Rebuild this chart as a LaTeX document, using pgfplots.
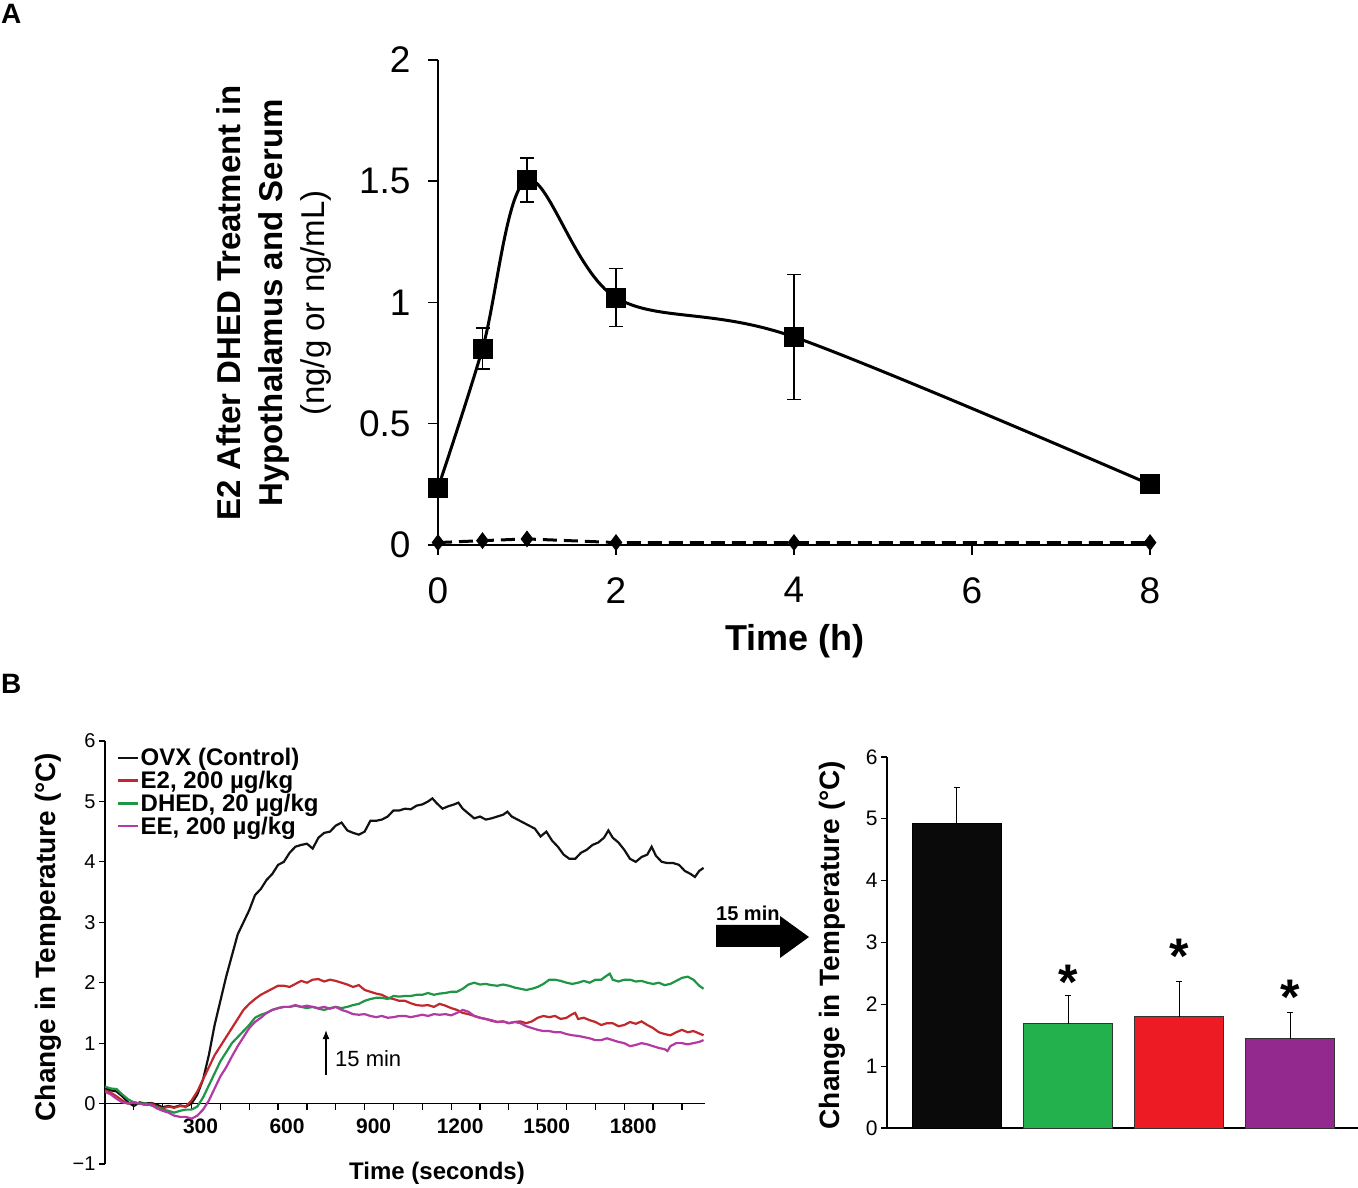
\documentclass[border=0pt]{standalone}
\usepackage{pgfplots}
\pgfplotsset{compat=1.18}
\usetikzlibrary{arrows.meta}
\usepackage{fontspec}
\setmainfont{Liberation Sans}
\definecolor{ovx}{HTML}{111111}
\definecolor{etwo}{HTML}{C0282C}
\definecolor{dhed}{HTML}{1E9646}
\definecolor{ee}{HTML}{B23AA2}
\definecolor{barblack}{HTML}{0A0A0A}
\definecolor{bargreen}{HTML}{22B14C}
\definecolor{barred}{HTML}{ED1C24}
\definecolor{barpurple}{HTML}{93288E}
\newcommand{\fs}[1]{\fontsize{#1}{#1}\selectfont}

% panel B traces (time in s, change in deg C)
\pgfplotstableread{
t v
0 0.25
20 0.22
40 0.2
60 0.12
80 0.02
100 -0.04
120 0.02
140 0.0
160 0.01
180 -0.02
200 -0.06
220 -0.04
240 -0.06
260 -0.03
280 -0.05
300 0.0
320 0.15
340 0.4
360 0.8
380 1.3
400 1.7
420 2.1
440 2.45
460 2.8
480 3.0
500 3.2
520 3.45
540 3.55
560 3.7
580 3.8
600 3.95
620 4.0
640 4.15
660 4.25
680 4.28
700 4.3
720 4.22
740 4.4
760 4.48
780 4.5
800 4.6
820 4.65
840 4.52
860 4.48
880 4.45
900 4.5
920 4.68
940 4.68
960 4.7
980 4.75
1000 4.85
1020 4.85
1040 4.88
1060 4.87
1080 4.93
1100 4.95
1120 5.0
1135 5.05
1150 4.97
1170 4.88
1190 4.92
1210 4.95
1225 4.98
1240 4.88
1260 4.8
1280 4.72
1300 4.75
1320 4.7
1340 4.72
1360 4.75
1380 4.78
1395 4.83
1410 4.75
1430 4.7
1450 4.65
1470 4.6
1490 4.55
1510 4.42
1530 4.5
1550 4.35
1570 4.25
1590 4.12
1610 4.05
1630 4.05
1650 4.15
1670 4.2
1690 4.28
1710 4.32
1730 4.4
1745 4.52
1760 4.4
1780 4.32
1800 4.2
1820 4.05
1840 4.0
1860 4.08
1880 4.12
1895 4.25
1910 4.1
1930 4.0
1950 3.98
1970 3.98
1990 3.95
2010 3.85
2030 3.8
2045 3.75
2060 3.85
2075 3.9
}\ovxdata

\pgfplotstableread{
t v
0 0.22
20 0.18
40 0.12
60 0.05
80 0.0
100 0.02
120 0.0
140 -0.02
160 0.0
180 -0.05
200 -0.08
220 -0.05
240 -0.07
260 -0.04
280 -0.05
300 0.05
320 0.2
340 0.4
360 0.6
380 0.8
400 0.95
420 1.1
440 1.25
460 1.4
480 1.55
500 1.65
520 1.73
540 1.8
560 1.85
580 1.9
600 1.95
620 1.95
640 1.93
660 1.98
680 2.03
700 2.0
720 2.05
740 2.06
760 2.02
780 2.05
800 2.03
820 2.0
840 1.97
860 1.93
880 1.96
900 1.88
920 1.85
940 1.82
960 1.8
980 1.75
1000 1.73
1020 1.7
1040 1.7
1060 1.66
1080 1.63
1100 1.62
1120 1.63
1140 1.6
1160 1.65
1180 1.62
1200 1.58
1220 1.55
1240 1.5
1260 1.48
1280 1.45
1300 1.42
1320 1.4
1340 1.37
1360 1.35
1380 1.36
1400 1.33
1420 1.35
1440 1.36
1460 1.33
1480 1.36
1500 1.42
1520 1.45
1540 1.43
1560 1.45
1580 1.4
1600 1.42
1620 1.48
1630 1.5
1640 1.4
1660 1.42
1680 1.38
1700 1.35
1720 1.3
1740 1.33
1760 1.33
1780 1.28
1800 1.3
1820 1.35
1840 1.32
1860 1.36
1880 1.3
1900 1.25
1920 1.18
1940 1.15
1960 1.13
1980 1.18
2000 1.22
2020 1.18
2040 1.2
2060 1.16
2075 1.13
}\etwodata

\pgfplotstableread{
t v
0 0.28
20 0.25
40 0.24
60 0.15
80 0.07
100 0.02
120 0.0
140 0.0
160 -0.03
180 -0.06
200 -0.1
220 -0.12
240 -0.15
260 -0.12
280 -0.1
300 -0.1
320 -0.05
340 0.1
360 0.3
380 0.5
400 0.7
420 0.85
440 1.0
460 1.1
480 1.2
500 1.3
520 1.42
540 1.47
560 1.5
580 1.55
600 1.58
620 1.6
640 1.6
660 1.62
680 1.6
700 1.58
720 1.6
740 1.57
760 1.55
780 1.58
800 1.6
820 1.58
840 1.6
860 1.63
880 1.65
900 1.7
920 1.73
940 1.75
960 1.75
980 1.73
1000 1.78
1020 1.77
1040 1.78
1060 1.78
1080 1.8
1100 1.8
1120 1.83
1140 1.8
1160 1.82
1180 1.83
1200 1.85
1220 1.85
1240 1.9
1260 1.97
1280 2.0
1300 1.97
1320 1.98
1340 1.96
1360 1.95
1380 1.97
1400 1.95
1420 1.92
1440 1.9
1460 1.88
1480 1.9
1500 1.93
1520 1.98
1540 2.05
1560 2.05
1580 2.03
1600 2.0
1620 1.98
1640 2.0
1660 2.03
1680 2.0
1700 2.05
1720 2.05
1740 2.12
1750 2.15
1760 2.05
1780 2.02
1800 2.05
1820 2.05
1840 2.02
1860 2.03
1880 2.0
1900 1.98
1920 2.0
1940 1.96
1960 1.98
1980 2.03
2000 2.08
2020 2.1
2040 2.05
2060 1.95
2075 1.9
}\dheddata

\pgfplotstableread{
t v
0 0.2
20 0.15
40 0.08
60 0.02
80 0.0
100 0.02
120 0.0
140 -0.02
160 -0.02
180 -0.08
200 -0.12
220 -0.15
240 -0.2
260 -0.22
280 -0.22
300 -0.25
320 -0.2
340 -0.1
360 0.05
380 0.25
400 0.45
420 0.6
440 0.78
460 0.95
480 1.1
500 1.25
520 1.35
540 1.42
560 1.5
580 1.55
600 1.58
620 1.6
640 1.6
660 1.63
680 1.6
700 1.62
720 1.6
740 1.58
760 1.6
780 1.57
800 1.6
820 1.55
840 1.52
860 1.48
880 1.47
900 1.48
920 1.45
940 1.43
960 1.45
980 1.42
1000 1.43
1020 1.45
1040 1.45
1060 1.43
1080 1.45
1100 1.47
1120 1.45
1140 1.48
1160 1.47
1180 1.48
1200 1.46
1220 1.5
1240 1.55
1260 1.52
1280 1.45
1300 1.42
1320 1.4
1340 1.38
1360 1.35
1380 1.36
1400 1.33
1420 1.35
1440 1.33
1460 1.28
1480 1.25
1500 1.22
1520 1.2
1540 1.2
1560 1.18
1580 1.18
1600 1.15
1620 1.13
1640 1.12
1660 1.1
1680 1.08
1700 1.05
1720 1.05
1740 1.08
1760 1.05
1780 1.02
1800 1.0
1820 0.95
1840 0.97
1860 1.0
1880 0.98
1900 0.95
1920 0.92
1940 0.9
1950 0.87
1960 0.95
1980 1.0
2000 1.0
2020 0.98
2040 1.0
2060 1.02
2075 1.05
}\eedata

\begin{document}
\begin{tikzpicture}[x=1pt,y=1pt]
\useasboundingbox (0,0) rectangle (1358,1187);

% ---------------- panel A ----------------
\node[anchor=north west, inner sep=0pt, font=\bfseries\fs{28}] at (1,1183) {A};
\begin{axis}[
  at={(438pt,642pt)}, anchor=south west,
  scale only axis, width=712pt, height=485pt,
  xmin=0, xmax=8, ymin=0, ymax=2,
  axis lines=left, axis line style={-, line width=2.2pt},
  xtick={0,2,4,6,8}, ytick={0,0.5,1,1.5,2},
  tick align=outside, major tick length=10pt,
  tick style={line width=1.5pt, black},
  ticklabel style={font=\fs{37}},
  xticklabel style={yshift=-19pt},
  yticklabel style={xshift=-14pt},
  /pgf/number format/assume math mode=true,
  clip=false,
]
\addplot[black, line width=3pt, smooth, tension=0.55,
  mark=square*, mark size=8.5pt,
  error bars/.cd, y dir=both, y explicit,
  error bar style={line width=1.5pt, solid},
  error mark options={rotate=90, mark size=7pt, line width=1.5pt}]
  coordinates {
  (0,0.235) +- (0,0.03)
  (0.5,0.81) +- (0,0.085)
  (1,1.505) +- (0,0.09)
  (2,1.02) +- (0,0.12)
  (4,0.858) +- (0,0.258)
  (8,0.25) +- (0,0)
  };
\addplot[black, line width=3pt, dash pattern=on 14pt off 7pt,
  mark=diamond*, mark size=6pt, mark options={solid}]
  coordinates {
  (0,0.01) (0.5,0.018) (1,0.025) (2,0.01) (4,0.01) (8,0.01)
  };
\end{axis}
\node[font=\bfseries\fs{36}] at (795,546) {Time (h)};
\node[rotate=90, align=center, font=\fs{33}] at (274,884)
  {\bfseries E2 After DHED Treatment in\\[9pt]\bfseries Hypothalamus and Serum\\[9pt](ng/g or ng/mL)};

% ---------------- panel B, traces ----------------
\node[anchor=north west, inner sep=0pt, font=\bfseries\fs{28}] at (1,513) {B};
\begin{axis}[
  at={(105pt,23pt)}, anchor=south west,
  scale only axis, width=600pt, height=423pt,
  xmin=0, xmax=2080, ymin=-1, ymax=6,
  axis x line=middle, axis y line=left,
  axis line style={-, line width=1.5pt},
  xtick={300,600,...,1800}, minor xtick={100,200,...,2000},
  ytick={-1,0,...,6}, yticklabels={−1,0,1,2,3,4,5,6},
  tick align=outside, major tick length=6pt, minor tick length=6pt,
  tick style={line width=1.2pt, black},
  xticklabel style={font=\bfseries\fs{21}, xshift=9pt, yshift=-6pt},
  yticklabel style={font=\fs{20}},
  /pgf/number format/assume math mode=true,
  /pgf/number format/1000 sep={},
  legend style={at={(0.02,0.985)}, anchor=north west, draw=none, fill=none,
    font=\bfseries\fs{24}, inner sep=0pt, row sep=1.8pt,
    nodes={inner sep=1pt}},
  legend cell align=left,
  legend image code/.code={\draw[#1, line width=2.5pt] (0pt,0pt) -- (20pt,0pt);},
]
\addplot[ovx, line width=2.2pt] table[x=t, y=v] {\ovxdata};
\addlegendentry{OVX (Control)}
\addplot[etwo, line width=2.2pt] table[x=t, y=v] {\etwodata};
\addlegendentry{E2, 200 µg/kg}
\addplot[dhed, line width=2.2pt] table[x=t, y=v] {\dheddata};
\addlegendentry{DHED, 20 µg/kg}
\addplot[ee, line width=2.2pt] table[x=t, y=v] {\eedata};
\addlegendentry{EE, 200 µg/kg}
\end{axis}
\draw[line width=1.5pt, -{Latex[length=9pt,width=7pt]}] (326,112) -- (326,157);
\node[anchor=base west, inner sep=0pt, font=\fs{22}] at (335,121) {15 min};
\node[rotate=90, font=\bfseries\fs{28}] at (48,250) {Change in Temperature (°C)};
\node[font=\bfseries\fs{24}] at (437,14) {Time (seconds)};

% arrow between the two panels
\fill[black] (716,262) -- (780,262) -- (780,271) -- (809,250) -- (780,229) -- (780,240) -- (716,240) -- cycle;
\node[anchor=base west, inner sep=0pt, font=\bfseries\fs{20}] at (716,266) {15 min};

% ---------------- panel B, bars ----------------
\begin{axis}[
  at={(887pt,59pt)}, anchor=south west,
  scale only axis, width=471pt, height=371pt,
  xmin=-0.63, xmax=3.61, ymin=0, ymax=6,
  axis lines=left, axis line style={-, line width=1.5pt},
  xtick=\empty, ytick={0,...,6},
  tick align=outside, major tick length=6pt,
  tick style={line width=1.2pt, black},
  yticklabel style={font=\fs{21}},
  /pgf/number format/assume math mode=true,
  clip=false,
]
\addplot[ybar, bar width=0.8, fill=barblack, draw=black, line width=1pt,
  error bars/.cd, y dir=plus, y explicit,
  error bar style={line width=1pt}, error mark options={rotate=90, mark size=3pt, line width=1pt}]
  coordinates {(0,4.925) +- (0,0.58)};
\addplot[ybar, bar width=0.8, fill=bargreen, draw=black!80, line width=1pt,
  error bars/.cd, y dir=plus, y explicit,
  error bar style={line width=1pt, black}, error mark options={rotate=90, mark size=3pt, line width=1pt, black}]
  coordinates {(1,1.69) +- (0,0.45)};
\addplot[ybar, bar width=0.8, fill=barred, draw=black!80, line width=1pt,
  error bars/.cd, y dir=plus, y explicit,
  error bar style={line width=1pt, black}, error mark options={rotate=90, mark size=3pt, line width=1pt, black}]
  coordinates {(2,1.80) +- (0,0.57)};
\addplot[ybar, bar width=0.8, fill=barpurple, draw=black!80, line width=1pt,
  error bars/.cd, y dir=plus, y explicit,
  error bar style={line width=1pt, black}, error mark options={rotate=90, mark size=3pt, line width=1pt, black}]
  coordinates {(3,1.44) +- (0,0.43)};
\node[font=\bfseries\fs{50}] at (axis cs:1,2.35) {*};
\node[font=\bfseries\fs{50}] at (axis cs:2,2.77) {*};
\node[font=\bfseries\fs{50}] at (axis cs:3,2.12) {*};
\end{axis}
\node[rotate=90, font=\bfseries\fs{28}] at (832,242) {Change in Temperature (°C)};
\end{tikzpicture}
\end{document}
